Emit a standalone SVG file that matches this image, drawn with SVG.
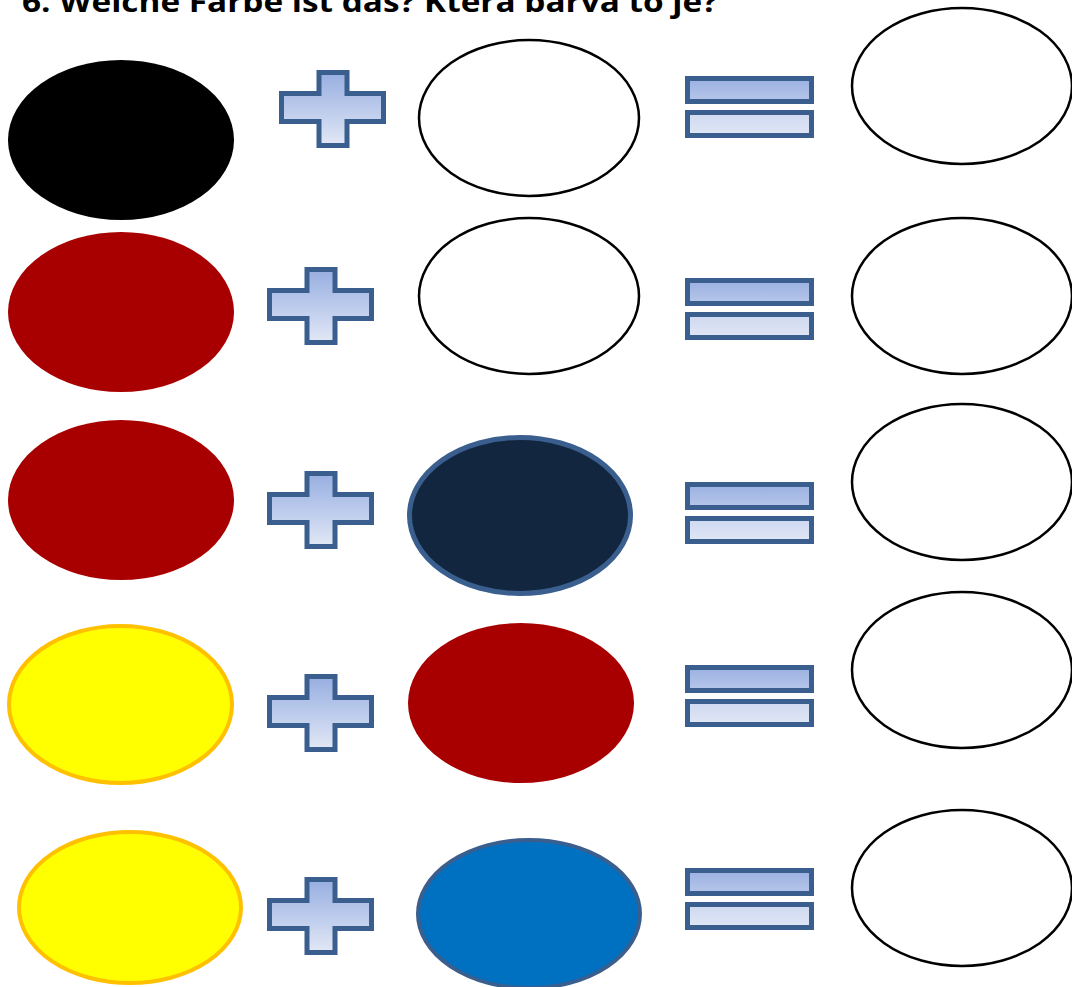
<svg xmlns="http://www.w3.org/2000/svg" xmlns:xlink="http://www.w3.org/1999/xlink" width="1072" height="987" viewBox="0 0 1072 987">
<style>
.title{font-family:"Open Sans","Liberation Sans",sans-serif;font-weight:bold;font-size:29px;fill:#000}
.empty{fill:#fff;stroke:#000;stroke-width:2.5}
.red{fill:#a80000}
.black{fill:#000}
.yellow{fill:#ffff00;stroke:#ffc000;stroke-width:4}
.navy{fill:#12263f;stroke:#3a5f8e;stroke-width:5}
.blue{fill:#0070c0;stroke:#3a5f8e;stroke-width:4}
.op{stroke:#3a5f8e;stroke-width:5;stroke-linejoin:miter}
</style>
<defs>
<linearGradient id="gPlus" x1="0" y1="0" x2="0" y2="1">
<stop offset="0" stop-color="#97aee0"/>
<stop offset="0.5" stop-color="#bccbec"/>
<stop offset="1" stop-color="#e2e8f5"/>
</linearGradient>
<linearGradient id="gEq" gradientUnits="userSpaceOnUse" x1="0" y1="0" x2="0" y2="62">
<stop offset="0" stop-color="#97aee0"/>
<stop offset="0.45" stop-color="#bac9eb"/>
<stop offset="0.55" stop-color="#ccd7f0"/>
<stop offset="1" stop-color="#e2e8f5"/>
</linearGradient>
<path id="plus" class="op" fill="url(#gPlus)" d="M37.5,0 H65.5 V21 H102 V49 H65.5 V73 H37.5 V49 H0 V21 H37.5 Z"/>
<g id="equals" class="op" fill="url(#gEq)">
<rect x="2.5" y="2.5" width="124" height="23"/>
<rect x="2.5" y="36.5" width="124" height="23"/>
</g>
</defs>
<text class="title" x="22" y="12" textLength="696" lengthAdjust="spacingAndGlyphs">6. Welche Farbe ist das? Která barva to je?</text>

<g id="row1">
<ellipse id="r1a" class="black" cx="121" cy="140" rx="113" ry="80"/>
<use id="r1plus" xlink:href="#plus" transform="translate(281.5,72.5)"/>
<ellipse id="r1b" class="empty" cx="529" cy="118" rx="110" ry="78"/>
<use id="r1eq" xlink:href="#equals" transform="translate(685,76)"/>
<ellipse id="r1c" class="empty" cx="962" cy="86" rx="110" ry="78"/>
</g>
<g id="row2">
<ellipse id="r2a" class="red" cx="121" cy="312" rx="113" ry="80"/>
<use id="r2plus" xlink:href="#plus" transform="translate(269.5,269.5)"/>
<ellipse id="r2b" class="empty" cx="529" cy="296" rx="110" ry="78"/>
<use id="r2eq" xlink:href="#equals" transform="translate(685,278)"/>
<ellipse id="r2c" class="empty" cx="962" cy="296" rx="110" ry="78"/>
</g>
<g id="row3">
<ellipse id="r3a" class="red" cx="121" cy="500" rx="113" ry="80"/>
<use id="r3plus" xlink:href="#plus" transform="translate(269.5,473.5)"/>
<ellipse id="r3b" class="navy" cx="520" cy="515.5" rx="110.5" ry="78"/>
<use id="r3eq" xlink:href="#equals" transform="translate(685,482)"/>
<ellipse id="r3c" class="empty" cx="962" cy="482" rx="110" ry="78"/>
</g>
<g id="row4">
<ellipse id="r4a" class="yellow" cx="120.5" cy="704.5" rx="111.5" ry="78.5"/>
<use id="r4plus" xlink:href="#plus" transform="translate(269.5,676.5)"/>
<ellipse id="r4b" class="red" cx="521" cy="703" rx="113" ry="80"/>
<use id="r4eq" xlink:href="#equals" transform="translate(685,665)"/>
<ellipse id="r4c" class="empty" cx="962" cy="670" rx="110" ry="78"/>
</g>
<g id="row5">
<ellipse id="r5a" class="yellow" cx="130" cy="907.5" rx="111" ry="75.5"/>
<use id="r5plus" xlink:href="#plus" transform="translate(269.5,879.5)"/>
<ellipse id="r5b" class="blue" cx="529" cy="914" rx="111" ry="74"/>
<use id="r5eq" xlink:href="#equals" transform="translate(685,868)"/>
<ellipse id="r5c" class="empty" cx="962" cy="888" rx="110" ry="78"/>
</g>
</svg>
